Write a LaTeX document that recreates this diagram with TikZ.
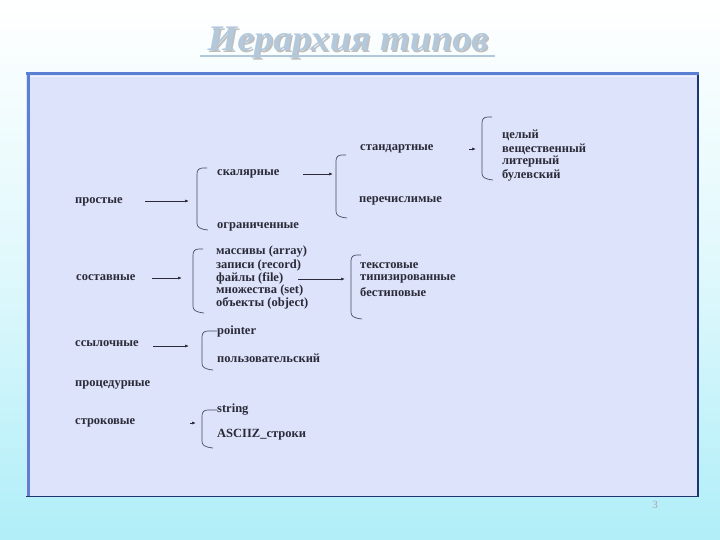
\documentclass[tikz,border=0pt]{standalone}
\usepackage{fontspec}
\setmainfont{Liberation Serif}
\usetikzlibrary{arrows.meta}
\definecolor{panelfill}{HTML}{DDE3FA}
\definecolor{panelblue}{HTML}{5B7FD2}
\definecolor{paneldark}{HTML}{1E3570}
\definecolor{titleblue}{HTML}{B4C8DC}
\definecolor{inkgrey}{HTML}{2A2A38}
\definecolor{bracketgrey}{HTML}{454C66}
\definecolor{bgcyan}{HTML}{B0EEF8}
% bracket: x, top y, bottom y, length of top arm
\newcommand{\typebracket}[4]{%
  \draw[brk] (#1+#4,#2) -- (#1+6,#2) .. controls (#1+2,#2) and (#1,#2+2) .. (#1,#2+6)
    -- (#1,#3-6) .. controls (#1,#3-2) and (#1+2,#3) .. (#1+11,#3+1);}

\begin{document}
\begin{tikzpicture}[x=1pt,y=-1pt,
    lbl/.style={anchor=west,inner sep=0pt,text=inkgrey,font=\bfseries\fontsize{12.5}{13}\selectfont},
    brk/.style={draw=bracketgrey,line width=0.7pt},
    arr/.style={draw=inkgrey,line width=0.7pt,-{Latex[length=4pt,width=3pt]}}]
  % background
  \shade[top color=white,bottom color=bgcyan,middle color=white!60!bgcyan] (0,0) rectangle (720,540);
  \useasboundingbox (0,0) rectangle (720,540);
  % title
  \node[text=gray!50,xscale=1.06,font=\bfseries\itshape\fontsize{36}{40}\selectfont] at (349.5,44.5) {Иерархия типов};
  \node[text=titleblue,xscale=1.06,font=\bfseries\itshape\fontsize{36}{40}\selectfont] (title) at (348,43) {Иерархия типов};
  \draw[titleblue,line width=1.2pt] (200,56) -- (495,56);
  % panel
  \fill[panelfill] (26,73) rectangle (699,496);
  \draw[paneldark,line width=0.8pt] (26,496) -- (699,496);
  \draw[paneldark,line width=2pt] (698,73) -- (698,496);
  \draw[panelblue,line width=3pt] (28,74) -- (28,496);
  \draw[panelblue,line width=3pt] (26,74) -- (699,74);
  \draw[white!60!panelfill,line width=1pt] (30,77) -- (696,77);
  \node[text=gray!70,font=\fontsize{11}{12}\selectfont] (pageno) at (655,505) {3};

  % labels
  \begin{scope}[every node/.style={lbl}]
    \node (simple) at (75,202) {простые};
    \node (compound) at (76,278) {составные};
    \node (reference) at (75,344) {ссылочные};
    \node (procedural) at (75,385) {процедурные};
    \node (stringtype) at (75,423) {строковые};

    \node (scalar) at (217,174) {скалярные};
    \node (bounded) at (217,227) {ограниченные};
    \node (standard) at (360,149) {стандартные};
    \node (enumerated) at (359,201) {перечислимые};
    \node (integer) at (502,135) {целый};
    \node (real) at (502,149) {вещественный};
    \node (literal) at (502,162) {литерный};
    \node (boolean) at (502,175) {булевский};

    \node (array) at (216,252) {массивы (array)};
    \node (record) at (216,265) {записи (record)};
    \node (file) at (216,278) {файлы (file)};
    \node (set) at (216,290.5) {множества (set)};
    \node (object) at (216,303) {объекты (object)};
    \node (text) at (360,266) {текстовые};
    \node (typed) at (360,279) {типизированные};
    \node (untyped) at (360,292) {бестиповые};

    \node (pointer) at (217,331) {pointer};
    \node (custom) at (217,358) {пользовательский};
    \node (string) at (217,410) {string};
    \node (asciiz) at (217,435) {ASCIIZ\_строки};
  \end{scope}

  % brackets
  \typebracket{197}{168}{229}{10}
  \typebracket{336}{155}{217}{10}
  \typebracket{482}{117}{179}{10}
  \typebracket{193}{249}{312}{10}
  \typebracket{351}{255}{318}{10}
  \typebracket{202}{331}{369}{15}
  \typebracket{202}{410}{447}{15}

  \coordinate (simplestart) at (145,201);
  \coordinate (simpleend) at (189,201);
  \coordinate (scalarstart) at (303,174);
  \coordinate (scalarend) at (333,174);
  \coordinate (standardstart) at (469,149);
  \coordinate (standardend) at (476,149);
  \coordinate (compoundstart) at (152,278);
  \coordinate (compoundend) at (182,278);
  \coordinate (filestart) at (298,279);
  \coordinate (fileend) at (345,279);
  \coordinate (referencestart) at (153,346);
  \coordinate (referenceend) at (189,346);
  \coordinate (stringstart) at (190,423);
  \coordinate (stringend) at (196,423);

  \draw[arr] (simplestart) -- (simpleend);
  \draw[arr] (scalarstart) -- (scalarend);
  \draw[arr] (standardstart) -- (standardend);
  \draw[arr] (compoundstart) -- (compoundend);
  \draw[arr] (filestart) -- (fileend);
  \draw[arr] (referencestart) -- (referenceend);
  \draw[arr] (stringstart) -- (stringend);
\end{tikzpicture}
\end{document}
